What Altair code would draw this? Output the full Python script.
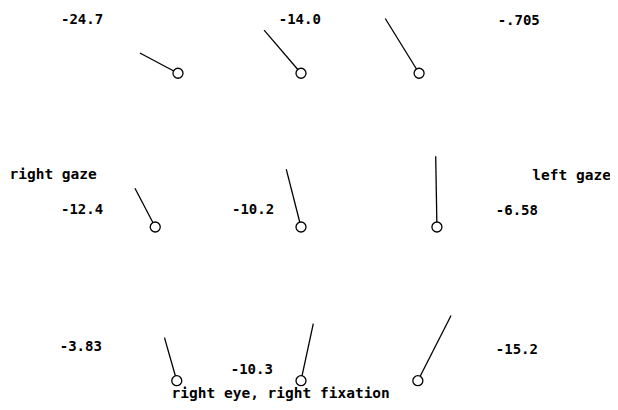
import altair as alt
import pandas as pd

# Eye positions (gaze units) for the 3x3 fixation grid
eye_x = [-20.0, 0.0, 19.2, -23.7, 0.0, 22.1, -20.2, 0.0, 19.0]
eye_y = [25.0, 25.0, 25.0, 0.0, 0.0, 0.0, -25.0, -25.0, -25.0]
# Needle vectors (gaze units) from each eye position
needle_dx = [-6.2, -6.0, -5.5, -3.3, -2.4, -0.2, -2.0, 2.0, 5.4]
needle_dy = [3.3, 7.0, 8.9, 6.3, 9.4, 11.5, 7.0, 9.3, 10.6]
# Values printed for each position
values = ["-24.7", "-14.0", "-.705", "-12.4", "-10.2", "-6.58", "-3.83", "-10.3", "-15.2"]
value_x = [-35.6, -0.2, 35.4, -35.6, -7.8, 35.1, -35.8, -8.0, 35.1]
value_y = [33.7, 33.7, 33.5, 2.8, 2.8, 2.6, -19.5, -23.3, -20.0]
# Side and bottom captions
captions = ["right gaze", "left gaze", "right eye, right fixation"]
caption_x = [-40.3, 44.0, -3.3]
caption_y = [8.5, 8.3, -27.2]

eyes = pd.DataFrame({
    "x": eye_x,
    "y": eye_y,
    "x2": [a + b for a, b in zip(eye_x, needle_dx)],
    "y2": [a + b for a, b in zip(eye_y, needle_dy)],
})
labels = pd.DataFrame({"x": value_x, "y": value_y, "t": values})
caps = pd.DataFrame({"x": caption_x, "y": caption_y, "t": captions})

xs = alt.Scale(domain=[-47.64, 50.24], nice=False, zero=False)
ys = alt.Scale(domain=[-28.46, 35.61], nice=False, zero=False)
X = lambda f="x": alt.X(f, type="quantitative", scale=xs, axis=None)
Y = lambda f="y": alt.Y(f, type="quantitative", scale=ys, axis=None)

needles = alt.Chart(eyes).mark_rule(color="black", strokeWidth=1.3).encode(
    x=X(), y=Y(), x2="x2", y2="y2"
)
circles = alt.Chart(eyes).mark_point(
    shape="circle", size=100, filled=True, fill="white", stroke="black", strokeWidth=1.3, opacity=1
).encode(x=X(), y=Y())
value_text = alt.Chart(labels).mark_text(
    font="DejaVu Sans Mono", fontWeight="bold", fontSize=14, color="black", align="center", baseline="middle"
).encode(x=X(), y=Y(), text="t")
cap_text = alt.Chart(caps).mark_text(
    font="DejaVu Sans Mono", fontWeight="bold", fontSize=14.5, color="black", align="center", baseline="middle"
).encode(x=X(), y=Y(), text="t")

chart = alt.layer(needles, circles, value_text, cap_text).properties(
    width=602, height=394, padding=0, background="white",
    autosize=alt.AutoSizeParams(type="none")
).configure_view(stroke=None)

chart.save("out.html", embed_options={"renderer": "svg", "actions": False})
